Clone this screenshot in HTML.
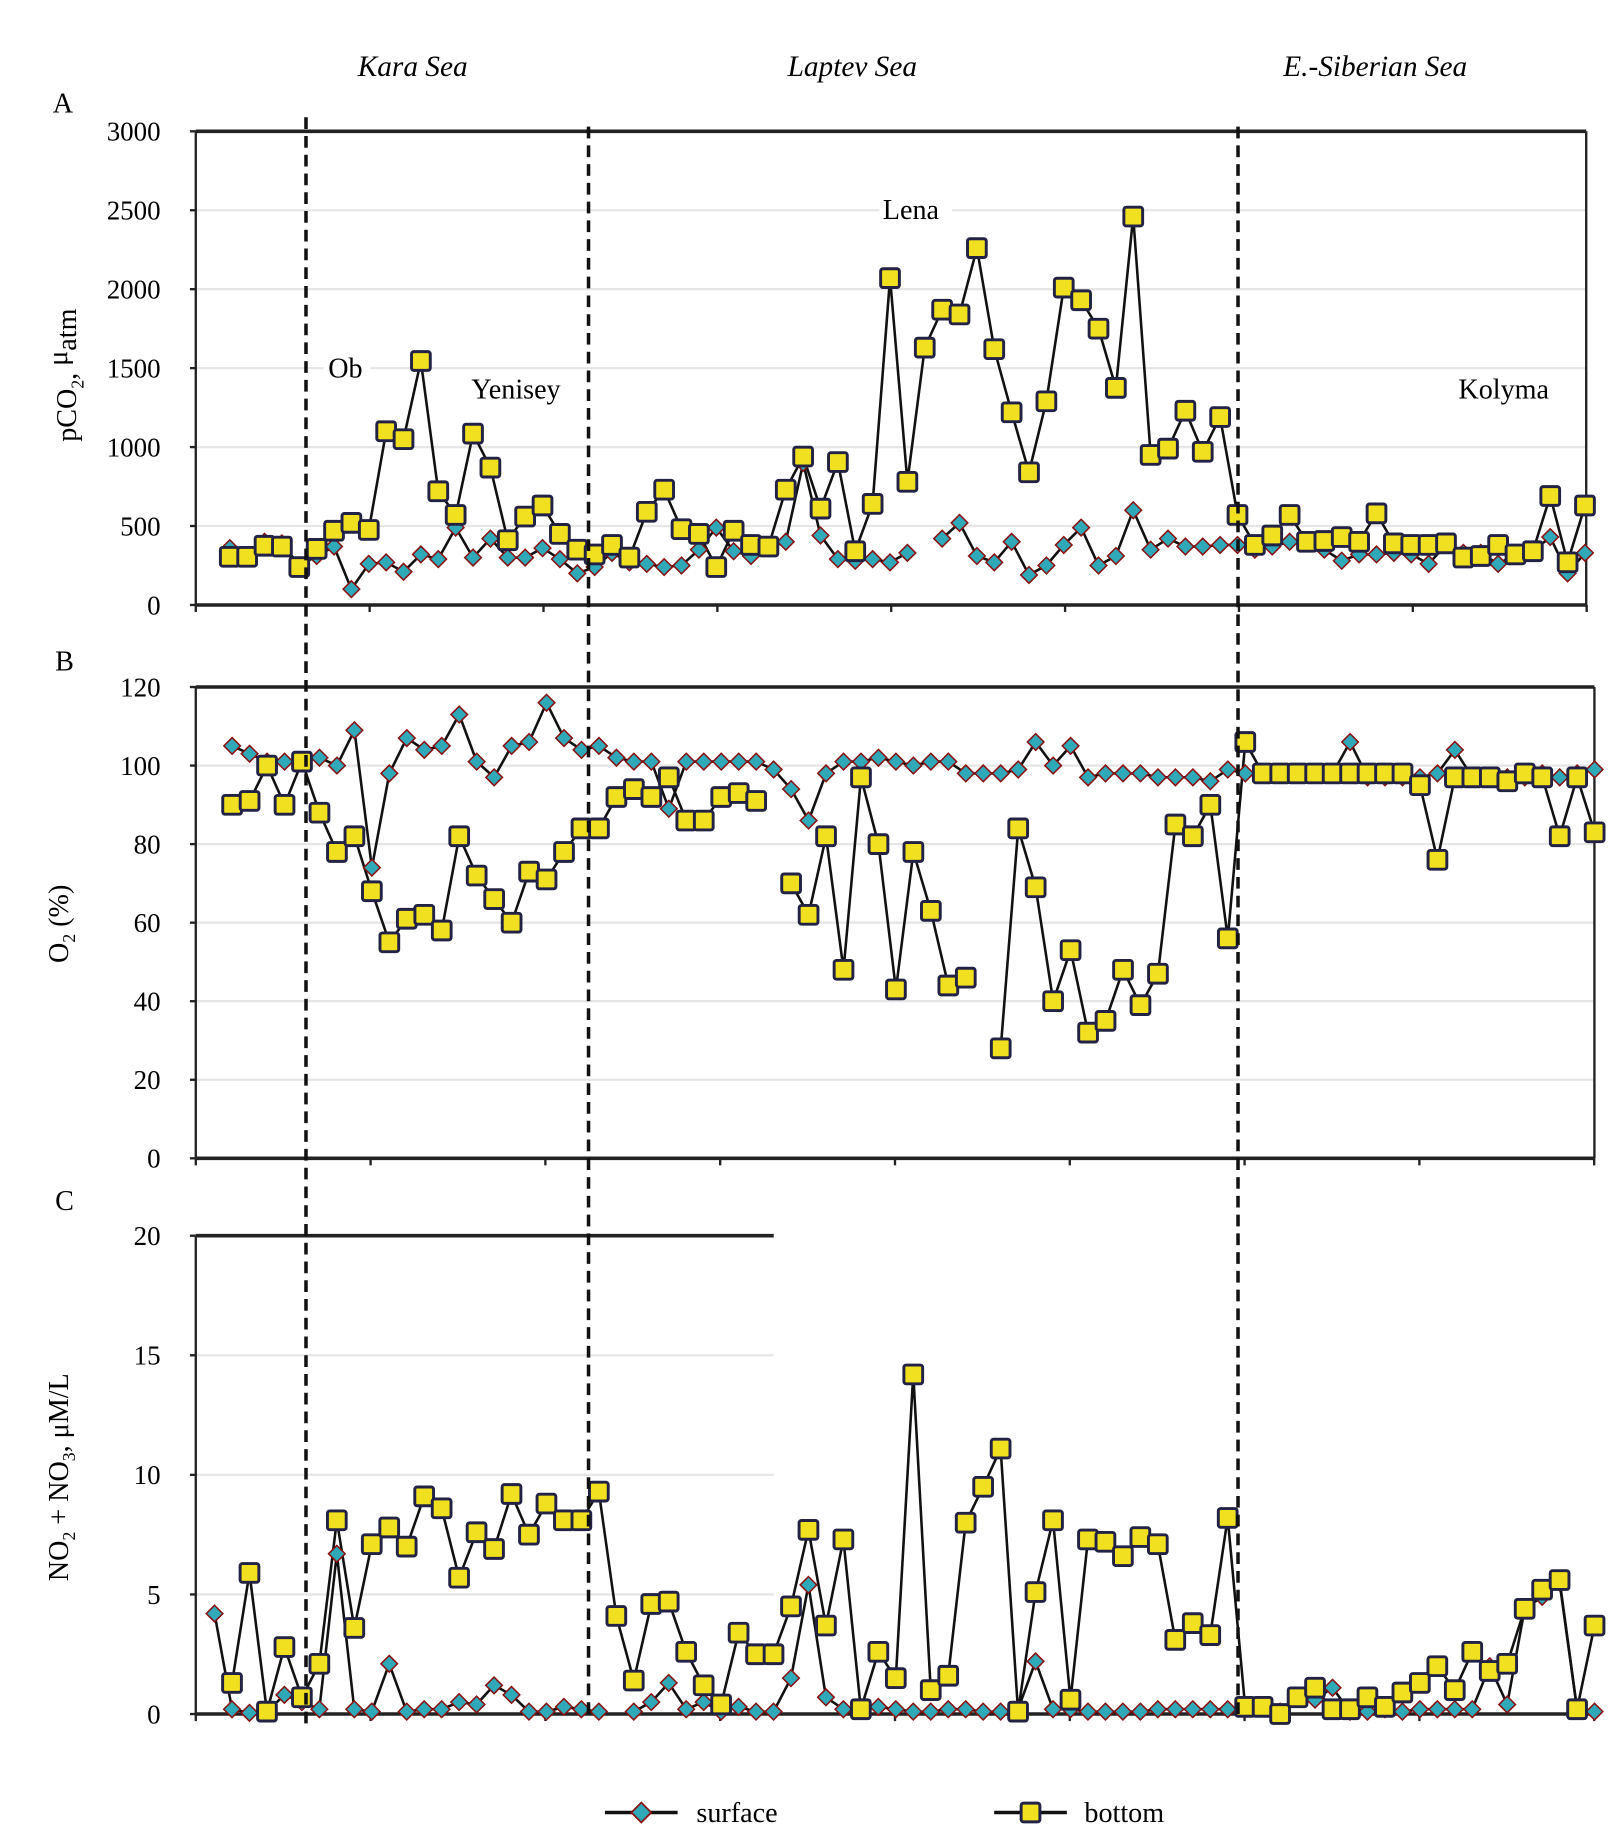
<!DOCTYPE html>
<html><head><meta charset="utf-8"><style>
html,body{margin:0;padding:0;background:#fff;}
svg{display:block;font-family:"Liberation Serif",serif;}
</style></head><body>
<svg id="chart" width="1612" height="1839" viewBox="0 0 1375 1568.6" preserveAspectRatio="none" xmlns="http://www.w3.org/2000/svg">
<g id="dyn"></g>
<g id="static">
<text x="352" y="65" font-size="25" font-style="italic" text-anchor="middle">Kara Sea</text>
<text x="727" y="65" font-size="25" font-style="italic" text-anchor="middle">Laptev Sea</text>
<text x="1173" y="65" font-size="25" font-style="italic" text-anchor="middle">E.-Siberian Sea</text>
<text x="45" y="96" font-size="24">A</text>
<text x="47" y="572" font-size="24">B</text>
<text x="47" y="1032" font-size="24">C</text>
<rect x="276" y="302" width="40" height="26" fill="#fff"/>
<text x="280" y="322" font-size="24">Ob</text>
<text x="402" y="340" font-size="24">Yenisey</text>
<rect x="750" y="166" width="62" height="26" fill="#fff"/>
<text x="753" y="187" font-size="24">Lena</text>
<text x="1244" y="340" font-size="24">Kolyma</text>
<text transform="translate(65,320) rotate(-90)" font-size="24" text-anchor="middle">pCO<tspan font-size="15" dy="6">2</tspan><tspan dy="-6">,  </tspan><tspan dy="-8">μ</tspan><tspan dy="8">atm</tspan></text>
<text transform="translate(58,788) rotate(-90)" font-size="24" text-anchor="middle">O<tspan font-size="15" dy="6">2</tspan><tspan dy="-6"> (%)</tspan></text>
<text transform="translate(58,1260) rotate(-90)" font-size="24" text-anchor="middle">NO<tspan font-size="15" dy="6">2</tspan><tspan dy="-6"> + NO</tspan><tspan font-size="15" dy="6">3</tspan><tspan dy="-6">, μM/L</tspan></text>
<g>
<g>
<line x1="516" y1="1546" x2="578" y2="1546" stroke="#111" stroke-width="3"/>
<rect x="541" y="1540" width="12" height="12" transform="rotate(45 547 1546)" fill="#2fa8b8" stroke="#8a1010" stroke-width="1.5"/>
<text x="594" y="1554" font-size="24">surface</text></g>
<g>
<line x1="848" y1="1546" x2="910" y2="1546" stroke="#111" stroke-width="3"/>
<rect x="871" y="1538" width="16" height="16" rx="2" fill="#f0e020" stroke="#222244" stroke-width="2.5"/>
<text x="925" y="1554" font-size="24">bottom</text></g>
</g>
</g>
</svg>
<script>
// Panel A: pCO2
const aBottom=[305,305,375,370,240,355,470,520,475,1100,1050,1545,720,570,1085,870,410,560,630,450,350,320,380,300,590,730,480,450,240,470,380,370,730,940,610,905,340,640,2070,780,1630,1870,1840,2260,1620,1220,840,1290,2010,1930,1750,1375,2460,950,990,1230,970,1190,570,380,440,570,400,405,430,400,580,390,380,380,390,300,310,380,320,340,690,270,630];
const aSurface=[360,310,400,390,250,310,370,100,260,270,210,320,290,490,300,420,300,300,360,290,200,240,330,270,260,240,250,350,490,340,310,360,400,900,440,290,280,290,270,330,null,420,520,310,270,400,190,250,380,490,250,310,600,350,420,370,370,380,380,350,370,400,400,350,280,320,320,330,320,260,380,330,330,260,320,340,430,200,330];
const aTicks=[0,500,1000,1500,2000,2500,3000];
// Panel B: O2
const bSurface=[105,103,101,101,101,102,100,109,74,98,107,104,105,113,101,97,105,106,116,107,104,105,102,101,101,89,101,101,101,101,101,99,94,86,98,101,101,102,101,100,101,101,98,98,98,99,106,100,105,97,98,98,98,97,97,97,96,99,98,98,98,98,98,98,106,97,97,97,97,98,104,97,97,97,97,98,97,98,99];
const bBottom=[90,91,100,90,101,88,78,82,68,55,61,62,58,82,72,66,60,73,71,78,84,84,92,94,92,97,86,86,92,93,91,null,70,62,82,48,97,80,43,78,63,44,46,null,28,84,69,40,53,32,35,48,39,47,85,82,90,56,106,98,98,98,98,98,98,98,98,98,95,76,97,97,97,96,98,97,82,97,83];
const bTicks=[0,20,40,60,80,100,120];
// Panel C: NO2+NO3
const cSurface=[4.2,0.2,0.05,0.1,0.8,0.5,0.2,6.7,0.2,0.1,2.1,0.1,0.2,0.2,0.5,0.4,1.2,0.8,0.1,0.1,0.3,0.2,0.1,null,0.1,0.5,1.3,0.2,0.5,0.1,0.3,0.1,0.1,1.5,5.4,0.7,0.2,0.2,0.3,0.2,0.1,0.1,0.2,0.2,0.1,0.1,0.2,2.2,0.2,0.2,0.1,0.1,0.1,0.1,0.2,0.2,0.2,0.2,0.2,0.2,0.3,0.1,0.7,0.6,1.1,0.1,0.1,0.2,0.1,0.2,0.2,0.2,0.2,2.0,0.4,4.4,4.9,5.5,0.2,0.1];
const cBottom=[null,1.3,5.9,0.1,2.8,0.7,2.1,8.1,3.6,7.1,7.8,7.0,9.1,8.6,5.7,7.6,6.9,9.2,7.5,8.8,8.1,8.1,9.3,4.1,1.4,4.6,4.7,2.6,1.2,0.4,3.4,2.5,2.5,4.5,7.7,3.7,7.3,0.2,2.6,1.5,14.2,1.0,1.6,8.0,9.5,11.1,0.1,5.1,8.1,0.6,7.3,7.2,6.6,7.4,7.1,3.1,3.8,3.3,8.2,0.3,0.3,0.0,0.7,1.1,0.2,0.2,0.7,0.3,0.9,1.3,2.0,1.0,2.6,1.8,2.1,4.4,5.2,5.6,0.2,3.7];
const cTicks=[0,5,10,15,20];

const NS="http://www.w3.org/2000/svg";
const root=document.getElementById('dyn');
function mk(tag,attrs,parent){const e=document.createElementNS(NS,tag);for(const k in attrs)e.setAttribute(k,attrs[k]);(parent||root).appendChild(e);return e;}

const panels=[
 {name:'pco2',x0:196,dx:14.82,y0:516,y1:112,max:3000,ticks:aTicks,surf:aSurface,bot:aBottom,left:167,right:1353,xt0:167,xtd:148.3,box:'full'},
 {name:'o2',x0:198,dx:14.9,y0:988,y1:586,max:120,ticks:bTicks,surf:bSurface,bot:bBottom,left:167,right:1360,xt0:167,xtd:149.1,box:'full'},
 {name:'nitrate',x0:183,dx:14.9,y0:1462,y1:1054,max:20,ticks:cTicks,surf:cSurface,bot:cBottom,left:167,right:1360,xt0:167,xtd:149.1,box:'c'}
];
panels.forEach(p=>{
 const g=mk('g',{});
 
 
 const ys=v=>p.y0-(v/p.max)*(p.y0-p.y1);
 const xs=i=>p.x0+i*p.dx;
 const gridRight = p.box==='c'?660:p.right;
 p.ticks.forEach(t=>{
  const y=ys(t);
  if(t>0&&t<p.max){const gl=mk('line',{x1:p.left,x2:gridRight,y1:y,y2:y,stroke:'#e6e6e6','stroke-width':2},g);
   
   }
  mk('line',{x1:p.left-5,x2:p.left,y1:y,y2:y,stroke:'#222','stroke-width':2},g);
  const tx=mk('text',{x:p.left-30,y:y+8,'font-size':23,'text-anchor':'end'},g);
  tx.textContent=t;
  
  
 });
 const ax=mk('line',{x1:p.left,x2:p.right,y1:p.y0,y2:p.y0,stroke:'#222','stroke-width':3},g);
 
 
 mk('line',{x1:p.left,x2:p.left,y1:p.y1,y2:p.y0,stroke:'#222','stroke-width':2},g);
 if(p.box==='full'){
  mk('line',{x1:p.left,x2:p.right,y1:p.y1,y2:p.y1,stroke:'#222','stroke-width':3},g);
  mk('line',{x1:p.right,x2:p.right,y1:p.y1,y2:p.y0,stroke:'#222','stroke-width':2},g);
 } else {
  mk('line',{x1:p.left,x2:660,y1:p.y1,y2:p.y1,stroke:'#222','stroke-width':3},g);
 }
 for(let k=0;k<9;k++){const x=p.xt0+k*p.xtd;mk('line',{x1:x,x2:x,y1:p.y0,y2:p.y0+6,stroke:'#222','stroke-width':2},g);}
 [[p.surf,'surface'],[p.bot,'bottom']].forEach(([arr,nm])=>{
  let d='',pen=false;
  arr.forEach((v,i)=>{if(v==null){pen=false;return;}d+=(pen?'L':'M')+xs(i).toFixed(1)+','+ys(v).toFixed(1);pen=true;});
  const pl=mk('path',{d:d,fill:'none',stroke:'#111','stroke-width':2.2},g);
  
  
 });
 p.surf.forEach((v,i)=>{if(v==null)return;const x=xs(i),y=ys(v);
  const r=mk('rect',{x:x-5,y:y-5,width:10,height:10,transform:`rotate(45 ${x} ${y})`,fill:'#2fa8b8',stroke:'#8a1010','stroke-width':1.3},g);
  
  });
 p.bot.forEach((v,i)=>{if(v==null)return;const x=xs(i),y=ys(v);
  const r=mk('rect',{x:x-8,y:y-8,width:16,height:16,rx:2,fill:'#f0e020',stroke:'#222244','stroke-width':2.5},g);
  
  });
});
[[261,100,1470],[502,108,1465],[1056,108,1468]].forEach(b=>{
 const l=mk('line',{x1:b[0],x2:b[0],y1:b[1],y2:b[2],stroke:'#111','stroke-width':3,'stroke-dasharray':'10,6'});
 
 
});
</script>
</body></html>
